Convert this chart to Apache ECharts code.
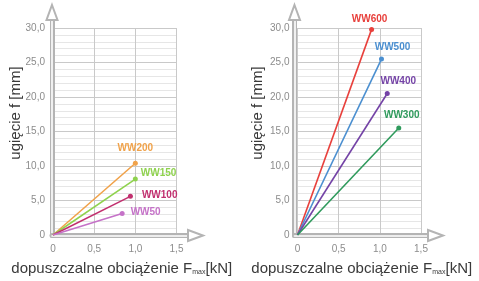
<!DOCTYPE html>
<html>
<head>
<meta charset="utf-8">
<script src="https://cdn.jsdelivr.net/npm/echarts@6/dist/echarts.min.js"></script>
<style>
html,body{margin:0;padding:0;background:#fff;}
#chart{width:479px;height:281px;}
</style>
</head>
<body>
<div id="chart"></div>
<script>
// ---- data ----
const leftNames = ['WW200', 'WW150', 'WW100', 'WW50'];
const leftLoad = [1.0, 1.0, 0.94, 0.84];          // kN
const leftDeflection = [10.4, 8.1, 5.6, 3.1];      // mm
const rightNames = ['WW600', 'WW500', 'WW400', 'WW300'];
const rightLoad = [0.90, 1.02, 1.09, 1.23];        // kN
const rightDeflection = [29.8, 25.5, 20.5, 15.5];  // mm
const xTickLabels = ['0', '0,5', '1,0', '1,5'];
const yTickLabels = ['0', '5,0', '10,0', '15,0', '20,0', '25,0', '30,0'];
const yAxisTitle = 'ugięcie f [mm]';
const xAxisTitle = 'dopuszczalne obciążenie F{sub|max}[kN]';

// ---- styles ----
const leftColors = ['#f0a24a', '#8fd24e', '#c2306f', '#c572c8'];
const rightColors = ['#e8403c', '#4b8fd0', '#7443a6', '#2f9a5c'];
const leftLabelPos = [
  {position: 'top', distance: 7, offset: [0, 0]},
  {position: 'right', distance: 3, offset: [0, -6]},
  {position: 'right', distance: 9, offset: [0, -1]},
  {position: 'right', distance: 6, offset: [0, -1]}
];
const rightLabelPos = [
  {position: 'top', distance: 3, offset: [-2, 0]},
  {position: 'top', distance: 4, offset: [11, 0]},
  {position: 'top', distance: 4, offset: [11, -1]},
  {position: 'top', distance: 4, offset: [3, -1]}
];
const FONT = "'Liberation Sans', Arial, sans-serif";
const tickColor = '#8c8c8c';
const shaftColor = '#b4b4b4';

const fmtX = v => xTickLabels[Math.round(v / 0.5)] ?? '';
const fmtY = v => yTickLabels[Math.round(v / 5)] ?? '';

function dataGrid(left) {
  return {left: left, top: 28, width: 123.5, height: 207.5};
}
function arrowGrid(left, right) {
  return {left: left, top: 12.5, width: right - left, height: 223};
}

const grids = [dataGrid(53), arrowGrid(52, 195.5), dataGrid(297.5), arrowGrid(294.5, 435.5)];

function dataX(gridIndex, padLeft) {
  return {
    type: 'value', gridIndex, min: 0, max: 1.5, interval: 0.5,
    axisLine: {show: false}, axisTick: {show: false},
    axisLabel: {formatter: fmtX, color: tickColor, fontSize: 10, fontFamily: FONT, margin: 9},
    splitLine: {show: true, lineStyle: {color: '#c9c9c9', width: 1}},
    name: xAxisTitle, nameLocation: 'middle', nameGap: 26,
    nameTextStyle: {
      fontSize: 15, color: '#3a3a3a', fontFamily: FONT, padding: [0, 0, 0, padLeft],
      rich: {sub: {fontSize: 7, color: '#3a3a3a', fontFamily: FONT, verticalAlign: 'bottom', padding: [8, 0, 0, 0]}}
    }
  };
}
function dataY(gridIndex) {
  return {
    type: 'value', gridIndex, min: 0, max: 30, interval: 5,
    axisLine: {show: false}, axisTick: {show: false},
    axisLabel: {formatter: fmtY, color: tickColor, fontSize: 10, fontFamily: FONT, margin: 8},
    splitLine: {show: true, lineStyle: {color: '#c9c9c9', width: 1}},
    minorTick: {show: false, splitNumber: 5},
    minorSplitLine: {show: true, lineStyle: {color: '#e6e6e6', width: 1}}
  };
}
function arrowAxis(gridIndex, isX, outer, name) {
  const base = {
    type: 'value', gridIndex, min: 0, max: 1,
    position: isX ? 'bottom' : 'left',
    axisTick: {show: false}, axisLabel: {show: false}, splitLine: {show: false},
    axisLine: outer
      ? {show: true, symbol: ['none', 'emptyTriangle'], symbolSize: isX ? [11, 15] : [11, 15],
         lineStyle: {color: shaftColor, width: 5}}
      : {show: true, symbol: ['none', 'none'], lineStyle: {color: '#ffffff', width: 1.6}}
  };
  if (name) {
    Object.assign(base, {
      name: name, nameLocation: 'middle', nameRotate: 90, nameGap: 29,
      nameTextStyle: {fontSize: 15, color: '#3a3a3a', fontFamily: FONT, padding: [0, 0, 0, 22]}
    });
  }
  return base;
}

const xAxes = [
  dataX(0, 14),
  arrowAxis(1, true, true), arrowAxis(1, true, false),
  dataX(2, 5),
  arrowAxis(3, true, true), arrowAxis(3, true, false)
];
const yAxes = [
  dataY(0),
  arrowAxis(1, false, true, yAxisTitle), arrowAxis(1, false, false),
  dataY(2),
  arrowAxis(3, false, true, yAxisTitle), arrowAxis(3, false, false)
];

function makeSeries(names, loads, defl, colors, labelPos, axisIndex) {
  return names.map((n, i) => ({
    type: 'line', name: n, xAxisIndex: axisIndex, yAxisIndex: axisIndex,
    symbol: 'circle', symbolSize: 5, animation: false,
    lineStyle: {color: colors[i], width: 1.6},
    itemStyle: {color: colors[i]},
    data: [
      {value: [0, 0], symbol: 'none', label: {show: false}},
      {value: [loads[i], defl[i]], label: Object.assign({
        show: true, formatter: n, color: colors[i], fontSize: 10, fontWeight: 'bold', fontFamily: FONT
      }, labelPos[i])}
    ]
  }));
}

const series = [].concat(
  makeSeries(leftNames, leftLoad, leftDeflection, leftColors, leftLabelPos, 0),
  makeSeries(rightNames, rightLoad, rightDeflection, rightColors, rightLabelPos, 3)
);

const chart = echarts.init(document.getElementById('chart'), null, {renderer: 'canvas'});
chart.setOption({
  animation: false,
  backgroundColor: '#ffffff',
  grid: grids,
  xAxis: xAxes,
  yAxis: yAxes,
  series: series
});
</script>
</body>
</html>
